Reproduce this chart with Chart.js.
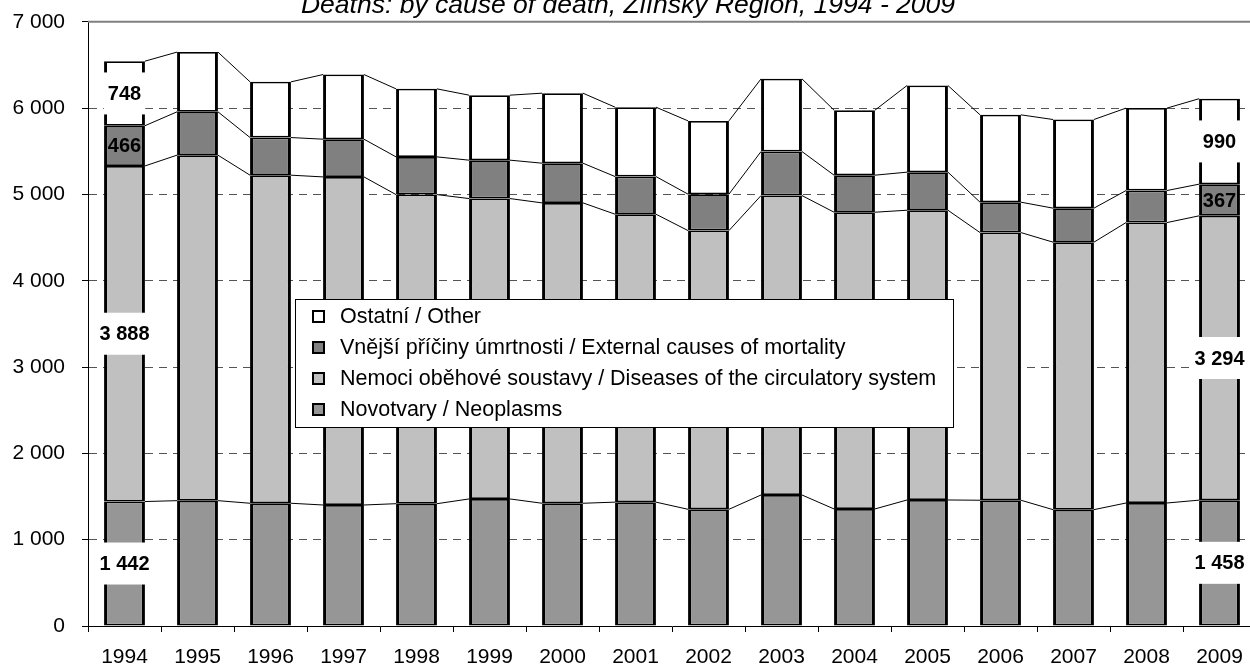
<!DOCTYPE html>
<html>
<head>
<meta charset="utf-8">
<title>Deaths by cause of death, Zlínský Region</title>
<script src="https://cdn.jsdelivr.net/npm/chart.js@4.4.0/dist/chart.umd.min.js"></script>
<style>
  html, body { margin: 0; padding: 0; background: #fff; }
  #wrap { position: relative; width: 1250px; height: 666px; overflow: hidden; }
  #chart { position: absolute; left: 0; top: -10px; }
</style>
</head>
<body>
<div id="wrap"><canvas id="chart" width="1270" height="676"></canvas></div>
<script>
const titleText = "Deaths: by cause of death, Zlínský Region, 1994 - 2009";

const years = ["1994", "1995", "1996", "1997", "1998", "1999", "2000", "2001",
               "2002", "2003", "2004", "2005", "2006", "2007", "2008", "2009"];

// Novotvary / Neoplasms
const neoplasms   = [1442, 1452, 1422, 1402, 1417, 1472, 1422, 1435,
                     1352, 1518, 1356, 1460, 1457, 1348, 1425, 1458];
// Nemoci oběhové soustavy / Diseases of the circulatory system
const circulatory = [3888, 4003, 3801, 3801, 3581, 3480, 3480, 3336,
                     3229, 3469, 3438, 3357, 3101, 3099, 3249, 3294];
// Vnější příčiny úmrtnosti / External causes of mortality
const external    = [466, 502, 436, 437, 437, 445, 460, 436,
                     422, 510, 429, 441, 352, 394, 371, 367];
// Ostatní / Other
const other       = [748, 692, 645, 749, 788, 753, 811, 804,
                     849, 842, 753, 1004, 1012, 1027, 955, 990];

const seriesNames = [
  "Novotvary / Neoplasms",
  "Nemoci oběhové soustavy / Diseases of the circulatory system",
  "Vnější příčiny úmrtnosti / External causes of mortality",
  "Ostatní / Other"
];

const yMax = 7000;
const yStep = 1000;

// only the first and the last year carry value labels
const labelIndexes = [0, years.length - 1];

const FONT = "'Liberation Sans', Arial, sans-serif";

function fmt(v) {
  return String(v).replace(/\B(?=(\d{3})+(?!\d))/g, " ");
}

function barSet(label, data, color, labelBox) {
  return {
    label: label,
    data: data,
    backgroundColor: color,
    borderColor: "#000",
    borderWidth: { top: 1.75, bottom: 1.75, left: 3, right: 3 },
    borderSkipped: false,
    barPercentage: 0.56,
    categoryPercentage: 1,
    labelBox: labelBox
  };
}

// plot border, series lines between bars and the value labels
const seriesLinesPlugin = {
  id: "seriesLines",
  beforeDatasetsDraw(chart) {
    const { ctx, chartArea: a } = chart;
    ctx.save();
    ctx.strokeStyle = "#808080";
    ctx.lineWidth = 2;
    ctx.beginPath();
    ctx.moveTo(a.left, a.top);
    ctx.lineTo(a.right, a.top);
    ctx.stroke();
    ctx.restore();
  },
  afterDatasetsDraw(chart) {
    const ctx = chart.ctx;
    ctx.save();
    ctx.strokeStyle = "#000";
    ctx.lineWidth = 1;
    chart.data.datasets.forEach((ds, d) => {
      const bars = chart.getDatasetMeta(d).data;
      ctx.beginPath();
      for (let i = 0; i < bars.length - 1; i++) {
        const a = bars[i], b = bars[i + 1];
        ctx.moveTo(a.x + a.width / 2, a.y);
        ctx.lineTo(b.x - b.width / 2, b.y);
      }
      ctx.stroke();
    });

    ctx.font = "bold 20px " + FONT;
    ctx.textAlign = "center";
    ctx.textBaseline = "middle";
    chart.data.datasets.forEach((ds, d) => {
      const meta = chart.getDatasetMeta(d);
      labelIndexes.forEach(i => {
        const bar = meta.data[i];
        const text = fmt(ds.data[i]);
        const cy = (bar.y + bar.base) / 2;
        if (ds.labelBox) {
          const w = ctx.measureText(text).width + 8;
          ctx.fillStyle = "#fff";
          ctx.fillRect(bar.x - w / 2, cy - 21, w, 42);
        }
        ctx.fillStyle = "#000";
        ctx.fillText(text, bar.x, cy + 1);
      });
    });
    ctx.restore();
  }
};

// legend box drawn inside the plot, series in reverse order
const boxLegendPlugin = {
  id: "boxLegend",
  afterDraw(chart) {
    const ctx = chart.ctx;
    const box = { x: 295.5, y: 309.5, w: 658, h: 128 };
    ctx.save();
    ctx.fillStyle = "#fff";
    ctx.fillRect(box.x, box.y, box.w, box.h);
    ctx.strokeStyle = "#000";
    ctx.lineWidth = 1;
    ctx.strokeRect(box.x, box.y, box.w, box.h);

    ctx.font = "21.5px " + FONT;
    ctx.textAlign = "left";
    ctx.textBaseline = "middle";
    const items = chart.data.datasets.slice().reverse();
    items.forEach((ds, k) => {
      const cy = box.y + 17 + k * 31;
      ctx.fillStyle = ds.backgroundColor;
      ctx.fillRect(313, cy - 5.5, 11, 11);
      ctx.lineWidth = 2;
      ctx.strokeStyle = "#000";
      ctx.strokeRect(313, cy - 5.5, 11, 11);
      ctx.fillStyle = "#000";
      ctx.fillText(ds.label, 340, cy + 1);
    });
    ctx.restore();
  }
};

const ctx = document.getElementById("chart").getContext("2d");
const chart = new Chart(ctx, {
  type: "bar",
  data: {
    labels: years,
    datasets: [
      barSet(seriesNames[0], neoplasms, "#969696", true),
      barSet(seriesNames[1], circulatory, "#c0c0c0", true),
      barSet(seriesNames[2], external, "#808080", false),
      barSet(seriesNames[3], other, "#ffffff", true)
    ]
  },
  options: {
    responsive: false,
    animation: false,
    devicePixelRatio: 1,
    layout: { padding: { left: 0, right: 14, top: 0, bottom: 0 } },
    plugins: {
      legend: { display: false },
      tooltip: { enabled: false },
      title: {
        display: true,
        text: titleText,
        color: "#000",
        font: { family: FONT, size: 26.5, style: "italic", weight: "normal", lineHeight: 1.2 },
        padding: { top: 0, bottom: 0 }
      }
    },
    scales: {
      x: {
        stacked: true,
        grid: {
          offset: true,
          drawOnChartArea: false,
          tickLength: 6,
          tickColor: "#000",
          color: "#000"
        },
        border: { color: "#000", width: 1 },
        ticks: {
          color: "#000",
          font: { family: FONT, size: 21 },
          padding: 13,
          maxRotation: 0,
          autoSkip: false
        },
        afterFit(scale) { scale.height = 40; }
      },
      y: {
        stacked: true,
        min: 0,
        max: yMax,
        grid: {
          color: c => (c.tick && c.tick.value === yMax ? "rgba(0,0,0,0)" : "#555"),
          lineWidth: 1,
          tickLength: 6,
          tickColor: "#000",
          tickBorderDash: []
        },
        border: { color: "#000", width: 1, dash: [8, 6] },
        ticks: {
          stepSize: yStep,
          color: "#000",
          font: { family: FONT, size: 21 },
          padding: 17,
          callback: v => fmt(v)
        },
        afterFit(scale) { scale.width = 88; }
      }
    }
  },
  plugins: [seriesLinesPlugin, boxLegendPlugin]
});
</script>
</body>
</html>
